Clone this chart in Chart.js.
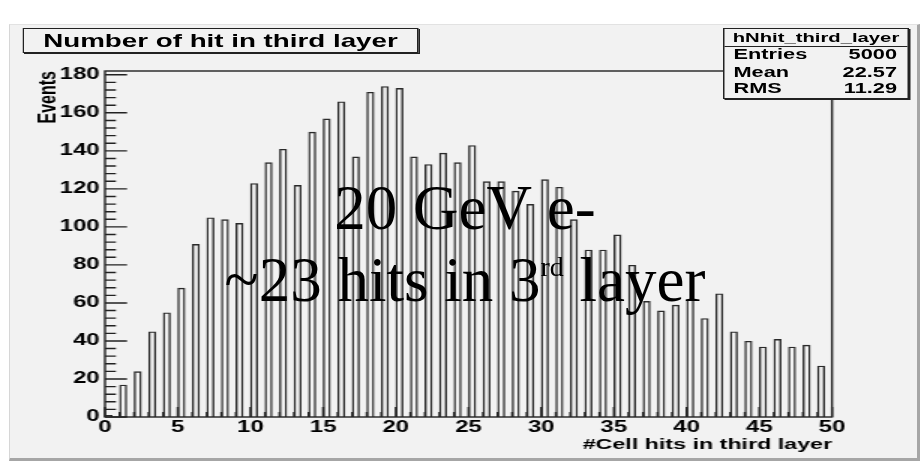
<!DOCTYPE html>
<html>
<head>
<meta charset="utf-8">
<script src="https://cdn.jsdelivr.net/npm/chart.js@4.4.1/dist/chart.umd.min.js"></script>
<style>
  html, body { margin: 0; padding: 0; background: #fff; }
  body { width: 923px; height: 473px; position: relative; overflow: hidden; font-family: "Liberation Sans", Arial, sans-serif; }
  #pad { position: absolute; left: 9px; top: 24px; width: 907px; height: 433px; background: #f2f2f2;
         border-left: 1px solid #d6d6d6; border-top: 1px solid #e2e2e2; border-right: 3px solid #a6a6a6; border-bottom: 3px solid #a6a6a6; }
  /* the ROOT picture was stretched sideways, so the whole chart is drawn narrow and widened */
  #stretch { position: absolute; left: 0; top: 0; width: 615px; height: 473px; transform: scaleX(1.5); transform-origin: 0 0; }
  #chart { position: absolute; left: 0; top: 0; }
  .pave { position: absolute; background: #f2f2f2; border: 1px solid #222; box-shadow: 1px 1px 0 #222; font-weight: bold; color: #000; }
  #title { left: 15px; top: 28px; width: 262px; height: 23px; font-size: 18.5px; line-height: 23px; text-align: center; white-space: nowrap; }
  #stats { left: 482px; top: 28px; width: 122px; height: 69px; font-size: 14.5px; }
  #stats .head { position: absolute; left: 0; right: 0; top: 0; height: 17px; line-height: 17px; font-size: 13.5px; text-align: center; border-bottom: 1px solid #222; }
  #stats .row { position: absolute; left: 6px; right: 7px; height: 17px; line-height: 17px; }
  #stats .row span { float: right; }
  .note { position: absolute; left: 165px; width: 600px; text-align: center; white-space: nowrap;
          font-family: "Liberation Serif", "Times New Roman", serif; font-size: 63px; line-height: 63px; color: #000; }
  .note sup { font-size: 28px; line-height: 0; vertical-align: 25px; }
</style>
</head>
<body>
<div id="pad"></div>
<div id="stretch">
  <canvas id="chart" width="615" height="473"></canvas>
  <div class="pave" id="title">Number of hit in third layer</div>
  <div class="pave" id="stats">
    <div class="head">hNhit_third_layer</div>
    <div class="row" style="top:17px">Entries<span>5000</span></div>
    <div class="row" style="top:34.5px">Mean<span>22.57</span></div>
    <div class="row" style="top:51px">RMS<span>11.29</span></div>
  </div>
</div>
<div class="note" style="top:177px">20 GeV e-</div>
<div class="note" style="top:249px">~23 hits in 3<sup>rd</sup> layer</div>

<script>
// lower edge of each bin
const bins = [0, 1, 2, 3, 4, 5, 6, 7, 8, 9, 10, 11, 12, 13, 14, 15, 16, 17, 18, 19,
              20, 21, 22, 23, 24, 25, 26, 27, 28, 29, 30, 31, 32, 33, 34, 35, 36, 37, 38, 39,
              40, 41, 42, 43, 44, 45, 46, 47, 48, 49];
const counts = [1, 17, 24, 45, 55, 68, 91, 105, 104, 102, 123, 134, 141, 122, 150, 157, 166, 137, 171, 174,
                173, 137, 133, 139, 134, 143, 124, 124, 119, 112, 125, 121, 104, 88, 88, 96, 80, 61, 56, 59,
                62, 52, 65, 45, 40, 37, 41, 37, 38, 27];
const xTicks = [0, 5, 10, 15, 20, 25, 30, 35, 40, 45, 50];
const yTicks = [0, 20, 40, 60, 80, 100, 120, 140, 160, 180];
const xMinorStep = 1;
const yMinorStep = 4;
const xMax = 50;
const yMax = 182;

const barOffset = 0.25;   // ROOT bar option: bar sits in the left half of the bin
const axisFont = { family: "'Liberation Sans', Arial, sans-serif", weight: 'bold', size: 16 };

const rootAxes = {
  id: 'rootAxes',
  afterDatasetsDraw(chart) {
    const { ctx, chartArea: a, scales: { x, y } } = chart;
    ctx.save();
    ctx.strokeStyle = '#222';
    ctx.lineWidth = 1.4;
    ctx.strokeRect(a.left, a.top, a.right - a.left, a.bottom - a.top);
    ctx.beginPath();
    for (let v = 0; v <= yMax; v += yMinorStep) {
      const py = y.getPixelForValue(v);
      const len = yTicks.includes(v) ? 14.7 : 7.3;
      ctx.moveTo(a.left, py);
      ctx.lineTo(a.left + len, py);
    }
    for (let v = 0; v <= xMax; v += xMinorStep) {
      const px = x.getPixelForValue(v);
      const len = xTicks.includes(v) ? 10 : 5;
      ctx.moveTo(px, a.bottom);
      ctx.lineTo(px, a.bottom - len);
    }
    ctx.stroke();
    ctx.restore();
  }
};

new Chart(document.getElementById('chart'), {
  type: 'bar',
  data: {
    datasets: [{
      label: 'hNhit_third_layer',
      data: bins.map((b, i) => ({ x: b + barOffset, y: counts[i] })),
      backgroundColor: 'rgba(0,0,0,0)',
      borderColor: '#2a2a2a',
      borderWidth: 1.4,
      categoryPercentage: 1,
      barPercentage: 0.55,
    }],
  },
  options: {
    responsive: false,
    animation: false,
    devicePixelRatio: 1,
    layout: { padding: { left: 0, top: 71, right: 60.33, bottom: 0 } },
    plugins: { legend: { display: false }, tooltip: { enabled: false } },
    scales: {
      x: {
        type: 'linear',
        min: 0,
        max: xMax,
        offset: false,
        grid: { display: false, drawTicks: false },
        border: { display: false },
        afterBuildTicks: (scale) => { scale.ticks = xTicks.map((v) => ({ value: v })); },
        afterFit: (scale) => { scale.height = 56; },
        ticks: { color: '#000', font: axisFont, padding: 1, maxRotation: 0, autoSkip: false },
        title: {
          display: true,
          text: '#Cell hits in third layer',
          align: 'end',
          color: '#000',
          font: { family: axisFont.family, weight: 'bold', size: 15.5 },
          padding: { top: 0, bottom: 19 },
        },
      },
      y: {
        min: 0,
        max: yMax,
        grid: { display: false, drawTicks: false },
        border: { display: false },
        afterBuildTicks: (scale) => { scale.ticks = yTicks.map((v) => ({ value: v })); },
        afterFit: (scale) => { scale.width = 70; },
        ticks: { color: '#000', font: axisFont, padding: 3.5, autoSkip: false },
        title: {
          display: true,
          text: 'Events',
          align: 'end',
          color: '#000',
          font: { family: axisFont.family, weight: 'bold', size: 16 },
          padding: { top: 22.5, bottom: 0 },
        },
      },
    },
  },
  plugins: [rootAxes],
});
</script>
</body>
</html>
